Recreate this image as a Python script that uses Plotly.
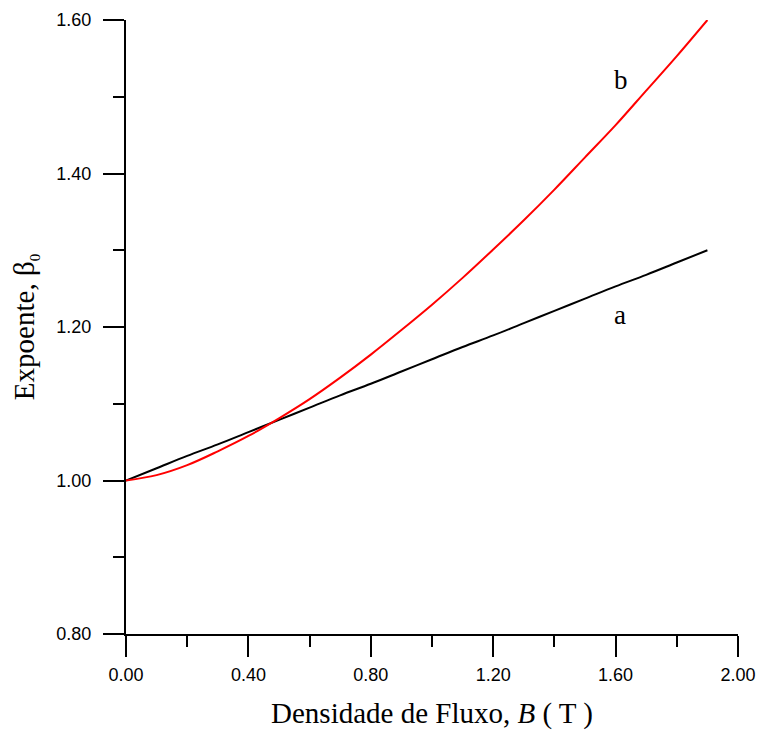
import plotly.graph_objects as go

B = [0.0, 0.1, 0.2, 0.3, 0.4, 0.5, 0.6, 0.7, 0.8, 0.9, 1.0,
     1.1, 1.2, 1.3, 1.4, 1.5, 1.6, 1.7, 1.8, 1.9]
beta_a = [1.000, 1.016, 1.032, 1.047, 1.063, 1.079, 1.095, 1.111, 1.126, 1.142, 1.158,
          1.174, 1.189, 1.205, 1.221, 1.237, 1.253, 1.268, 1.284, 1.300]
beta_b = [1.000, 1.007, 1.020, 1.038, 1.058, 1.081, 1.106, 1.134, 1.164, 1.196, 1.229,
          1.264, 1.301, 1.339, 1.379, 1.421, 1.463, 1.508, 1.553, 1.600]

x_ticks = [0.0, 0.4, 0.8, 1.2, 1.6, 2.0]
y_ticks = [0.8, 1.0, 1.2, 1.4, 1.6]

fig = go.Figure()
fig.add_trace(go.Scatter(x=B, y=beta_a, mode="lines",
                         line=dict(color="black", width=2, shape="spline"),
                         showlegend=False))
fig.add_trace(go.Scatter(x=B, y=beta_b, mode="lines",
                         line=dict(color="#ff0000", width=2, shape="spline"),
                         showlegend=False))

fig.add_annotation(x=1.614, y=1.216, text="a", showarrow=False,
                   font=dict(family="Liberation Serif", size=27, color="black"))
fig.add_annotation(x=1.618, y=1.522, text="b", showarrow=False,
                   font=dict(family="Liberation Serif", size=27, color="black"))

tickfont = dict(family="Liberation Sans", size=18, color="black")
titlefont = dict(family="Liberation Serif", size=29, color="black")

fig.update_xaxes(range=[0, 2.0], tickvals=x_ticks, tickformat=".2f",
                 ticks="outside", ticklen=21, tickwidth=2, tickcolor="black",
                 showline=True, linecolor="black", linewidth=2,
                 showgrid=False, zeroline=False, tickfont=tickfont,
                 ticklabelstandoff=2, automargin=False,
                 minor=dict(dtick=0.2, ticks="outside", ticklen=11, tickwidth=2,
                            tickcolor="black", showgrid=False),
                 title=dict(text="Densidade de Fluxo, <i>B</i> ( T )", font=titlefont, standoff=19))
fig.update_yaxes(range=[0.8, 1.6], tickvals=y_ticks, tickformat=".2f",
                 ticks="outside", ticklen=21, tickwidth=2, tickcolor="black",
                 showline=True, linecolor="black", linewidth=2,
                 showgrid=False, zeroline=False, tickfont=tickfont,
                 ticklabelstandoff=8, automargin=False,
                 minor=dict(dtick=0.1, ticks="outside", ticklen=11, tickwidth=2,
                            tickcolor="black", showgrid=False),
                 title=dict(text="Expoente, β<sub><span style='font-size:15px'>0</span></sub>",
                            font=titlefont, standoff=13))

fig.update_layout(width=760, height=731, plot_bgcolor="white", paper_bgcolor="white",
                  font=dict(family="Liberation Sans", color="black"),
                  margin=dict(l=126, r=22, t=20, b=97, autoexpand=False))

fig.write_html("out.html", config={"displayModeBar": False},
               post_script="document.body.style.margin='0px';")
